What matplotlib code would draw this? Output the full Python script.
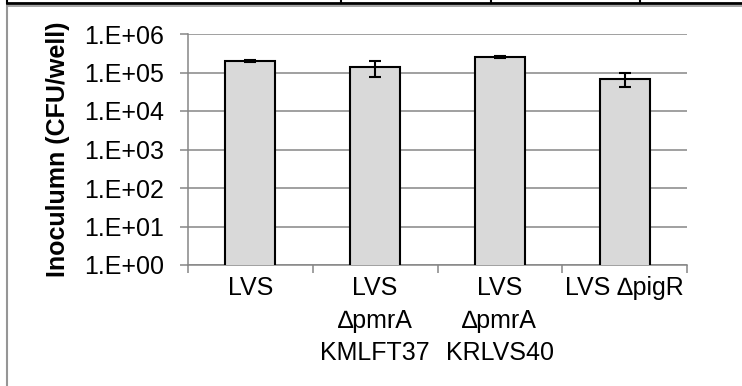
import numpy as np
import matplotlib
matplotlib.use("Agg")
import matplotlib.pyplot as plt
from matplotlib.lines import Line2D

plt.rcParams['font.family'] = ['Liberation Sans', 'DejaVu Sans']

# inoculum per strain, mean and error (CFU/well)
strains = ["LVS", "LVS\n\u2206pmrA\nKMLFT37", "LVS\n\u2206pmrA\nKRLVS40", "LVS \u2206pigR"]
inoculum = [1.95e5, 1.38e5, 2.5e5, 6.9e4]
inoculum_err = [1.2e4, 6.0e4, 1.2e4, 2.6e4]
ytick_vals = [1e0, 1e1, 1e2, 1e3, 1e4, 1e5, 1e6]
ytick_labels = ["1.E+00", "1.E+01", "1.E+02", "1.E+03", "1.E+04", "1.E+05", "1.E+06"]

W, H = 742, 386
fig = plt.figure(figsize=(W / 100, H / 100), dpi=100)
ax = fig.add_axes([188 / W, 1 - 265 / H, (687 - 188) / W, (265 - 34) / H])

x = np.arange(len(strains))
ax.bar(x, inoculum, width=0.4, color="#d9d9d9", edgecolor="black", linewidth=1.5,
       zorder=3)
ax.errorbar(x, inoculum, yerr=inoculum_err, fmt="none", ecolor="black",
            elinewidth=1.5, capsize=4, capthick=1.5, zorder=4)

ax.set_yscale("log")
ax.set_ylim(1e0, 1e6)
ax.set_xlim(-0.5, len(strains) - 0.5)
ax.set_yticks(ytick_vals)
ax.set_yticklabels(ytick_labels)
ax.yaxis.set_minor_locator(matplotlib.ticker.NullLocator())
ax.tick_params(axis="y", length=6, width=1.1, color="#868686", labelsize=18, pad=11)
ax.grid(axis="y", color="#868686", linewidth=1.1, zorder=0)

# category labels in the middle, tick marks between categories
ax.set_xticks(x)
ax.set_xticklabels(strains, fontsize=18, linespacing=1.45)
ax.tick_params(axis="x", length=0, pad=8)
ax.set_xticks(np.arange(len(strains) + 1) - 0.5, minor=True)
ax.tick_params(axis="x", which="minor", length=6, width=1.1, color="#868686")

for side in ["top", "right"]:
    ax.spines[side].set_visible(False)
for side in ["left", "bottom"]:
    ax.spines[side].set_color("#868686")
    ax.spines[side].set_linewidth(1.1)

ax.set_ylabel("Inoculumn (CFU/well)", fontsize=18, fontweight="bold", labelpad=10)

# table rule above the chart and the chart frame
def px_line(xs, ys, color, lw):
    fig.add_artist(Line2D([v / W for v in xs], [1 - v / H for v in ys],
                          color=color, linewidth=lw, transform=fig.transFigure))

px_line([7, W], [3, 3], "black", 2.0)
for xv in [7, 341, 491, 640]:
    px_line([xv, xv], [0, 3], "black", 1.5)
px_line([7, W], [5.5, 5.5], "#969696", 1.2)
px_line([7, 7], [5.5, H], "#969696", 1.5)

fig.savefig("out.png", dpi=100)
